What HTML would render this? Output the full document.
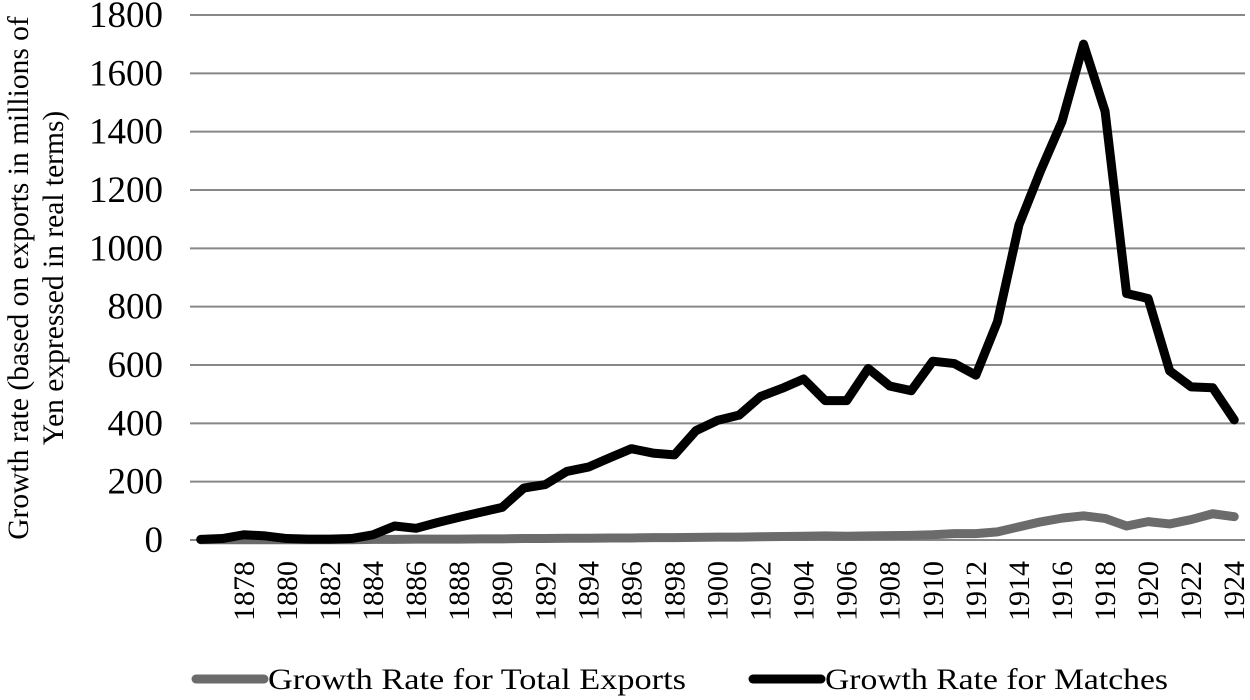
<!DOCTYPE html>
<html><head><meta charset="utf-8"><style>
body{margin:0;background:#fff;}
svg{display:block;font-family:"Liberation Serif",serif;}
</style></head><body>
<svg id="chart" width="1250" height="700">
<g id="grid"></g>
<g id="yticks"></g>
<g id="xticks"></g>
<g id="series"></g>
<g font-size="29.5" fill="#000">
<text transform="translate(28,278) rotate(-90)" text-anchor="middle">Growth rate (based on exports in millions of</text>
<text transform="translate(63,278) rotate(-90)" text-anchor="middle">Yen expressed in real terms)</text>
</g>
<g font-size="30">
<g>
<line x1="196" y1="679" x2="264" y2="679" stroke="#6b6b6b" stroke-width="9" stroke-linecap="round"/>
<text x="268" y="689" textLength="418" lengthAdjust="spacingAndGlyphs">Growth Rate for Total Exports</text></g>
<g>
<line x1="753" y1="679" x2="821" y2="679" stroke="#000" stroke-width="9" stroke-linecap="round"/>
<text x="825" y="689" textLength="343" lengthAdjust="spacingAndGlyphs">Growth Rate for Matches</text></g>
</g>
</svg>
<script>
const years=[1876,1877,1878,1879,1880,1881,1882,1883,1884,1885,1886,1887,1888,1889,1890,1891,1892,1893,1894,1895,1896,1897,1898,1899,1900,1901,1902,1903,1904,1905,1906,1907,1908,1909,1910,1911,1912,1913,1914,1915,1916,1917,1918,1919,1920,1921,1922,1923,1924];
const matches=[2,5,18,14,5,3,3,5,18,48,40,60,78,95,112,178,190,235,250,282,313,298,292,375,410,428,492,520,552,478,478,588,528,512,613,605,565,748,1080,1265,1435,1700,1470,845,828,580,525,522,412];
const totalExports=[1,1,1,1,1,1,1,1,2,2,3,3,3,4,4,5,5,6,6,7,7,8,8,9,10,10,11,12,13,14,13,14,15,16,18,22,22,28,45,62,75,83,74,48,63,55,70,90,80];
const yTicks=[0,200,400,600,800,1000,1200,1400,1600,1800];
const NS='http://www.w3.org/2000/svg';
const L=190,R=1245,T=15,B=540,YMAX=1800;
const y=v=>B-(v/YMAX)*(B-T);
const bw=(R-L)/years.length;
const x=i=>L+bw*(i+0.5);
function mk(tag,attrs,parent){const e=document.createElementNS(NS,tag);for(const k in attrs)e.setAttribute(k,attrs[k]);parent.appendChild(e);return e;}
const grid=document.getElementById('grid'),yt=document.getElementById('yticks'),xt=document.getElementById('xticks'),ser=document.getElementById('series');
yTicks.forEach(v=>{
 const ln=mk('line',{x1:L,x2:R,y1:y(v),y2:y(v),stroke:'#888','stroke-width':2},grid);
 
 
 const t=mk('text',{x:163,y:y(v)+12,'text-anchor':'end','font-size':37},yt);
 t.textContent=v;
 
 
});
years.forEach((yr,i)=>{
 if(yr%2!==0||yr===1876)return;
 const t=mk('text',{transform:`translate(${x(i)+10},561) rotate(-90)`,'text-anchor':'end','font-size':30},xt);
 t.textContent=yr;
 
 
});
function line(vals,color,name){
 const p=mk('polyline',{points:vals.map((v,i)=>x(i)+','+y(v)).join(' '),fill:'none',stroke:color,'stroke-width':9,'stroke-linejoin':'round','stroke-linecap':'round'},ser);
 
 
}
line(totalExports,'#6b6b6b','total-exports-line');
line(matches,'#000','matches-line');
</script>
</body></html>
